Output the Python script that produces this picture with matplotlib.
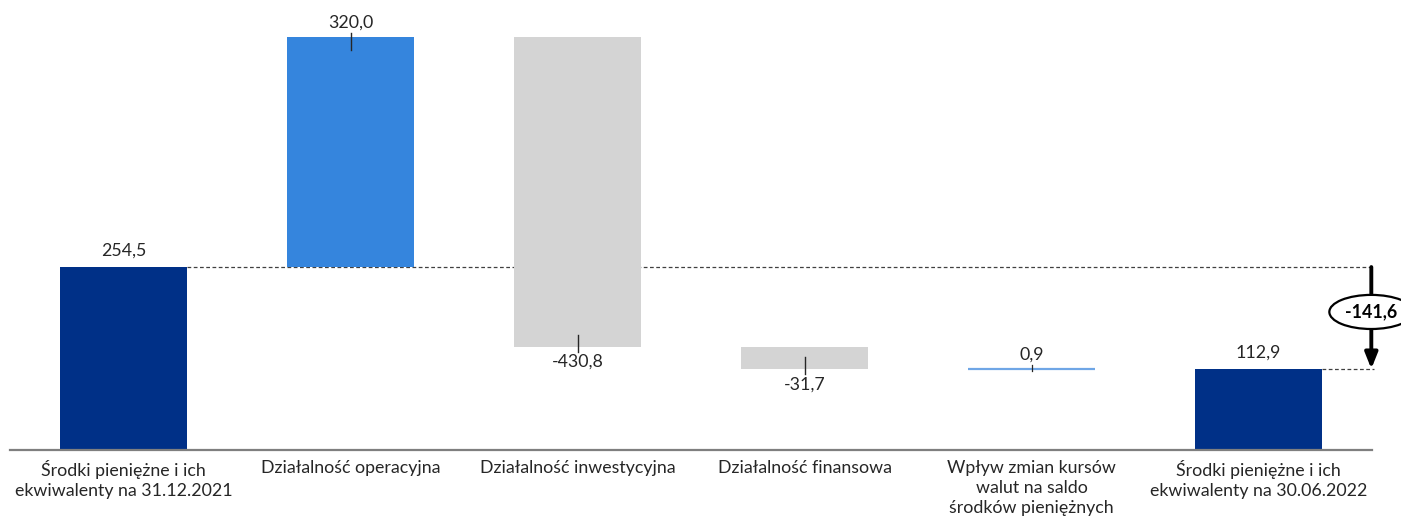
import matplotlib
matplotlib.use("Agg")
import matplotlib.pyplot as plt
import numpy as np

plt.rcParams["font.family"] = ["Lato", "DejaVu Sans"]

categories = [
    "Środki pieniężne i ich\nekwiwalenty na 31.12.2021",
    "Działalność operacyjna",
    "Działalność inwestycyjna",
    "Działalność finansowa",
    "Wpływ zmian kursów\nwalut na saldo\nśrodków pieniężnych",
    "Środki pieniężne i ich\nekwiwalenty na 30.06.2022",
]
opening = 254.5
changes = [320.0, -430.8, -31.7, 0.9]
closing = 112.9
net_change = -141.6
value_labels = ["254,5", "320,0", "-430,8", "-31,7", "0,9", "112,9", "-141,6"]

NAVY = "#003087"
BLUE = "#3585DD"
GREY = "#D4D4D4"
THIN_BLUE = "#6FA6E6"
TEXT = "#262626"

W, H, DPI = 1401, 522, 100
fig = plt.figure(figsize=(W / DPI, H / DPI), dpi=DPI)
ax_left, ax_right = 10, 1372
ax_bottom_px = 450
ax = fig.add_axes([ax_left / W, (H - ax_bottom_px) / H, (ax_right - ax_left) / W, ax_bottom_px / H])
ymax = 626
ax.set_xlim(-0.5, 5.5)
ax.set_ylim(0, ymax)

px = ymax / ax_bottom_px  # data units per pixel (vertical)
width = 0.56
x = np.arange(len(categories))

# waterfall geometry: running level after each step
levels = [opening]
for c in changes:
    levels.append(levels[-1] + c)
bottoms = [0] + [min(levels[i], levels[i + 1]) for i in range(len(changes))] + [0]
heights = [opening] + [abs(c) for c in changes] + [closing]
colors = [NAVY, BLUE, GREY, GREY, THIN_BLUE, NAVY]

for i in range(len(categories)):
    if i == 4:
        ax.hlines(bottoms[i] + heights[i] / 2, x[i] - width / 2, x[i] + width / 2,
                  color=THIN_BLUE, lw=1.6)
    else:
        ax.bar(x[i], heights[i], width, bottom=bottoms[i], color=colors[i],
               edgecolor="none", zorder=2)

# value labels with short leader ticks
fs = 12.8
for i, lab in enumerate(value_labels[:6]):
    if i in (0, 5):
        top = heights[i]
        ax.text(x[i], top + 8 * px, lab, ha="center", va="bottom", fontsize=fs, color=TEXT)
    elif i == 4:
        edge = levels[4]
        ax.text(x[i], edge + 6 * px, lab, ha="center", va="bottom", fontsize=fs, color=TEXT)
        ax.plot([x[i], x[i]], [edge - 2 * px, edge + 4 * px], color=TEXT, lw=0.9, zorder=3)
    else:
        c = changes[i - 1]
        if c > 0:
            edge = bottoms[i] + heights[i]
            ax.text(x[i], edge + 6 * px, lab, ha="center", va="bottom", fontsize=fs, color=TEXT)
            ax.plot([x[i], x[i]], [edge - 13 * px, edge + 4 * px], color=TEXT, lw=1.0, zorder=3)
        else:
            edge = bottoms[i]
            ax.text(x[i], edge - 7 * px, lab, ha="center", va="top", fontsize=fs, color=TEXT)
            ax.plot([x[i], x[i]], [edge + 12 * px, edge - 5 * px], color=TEXT, lw=1.0, zorder=3)

# dashed reference lines
x_end = 5.51
ax.hlines(opening, x[0] + width / 2, x_end, colors="#404040", linestyles=(0, (3, 2)),
          lw=0.9, clip_on=False, zorder=1)
ax.hlines(closing, x[5] + width / 2, x_end, colors="#404040", linestyles=(0, (3, 2)),
          lw=0.9, clip_on=False, zorder=1)

# net change arrow with ellipse label
ax.annotate("", xy=(5.497, closing), xytext=(5.497, opening),
            arrowprops=dict(arrowstyle="-|>,head_length=0.95,head_width=0.38",
                            color="black", lw=2.8, shrinkA=0, shrinkB=0),
            annotation_clip=False, zorder=4)
ax.text(5.497, (opening + closing) / 2 + 6 * px, value_labels[6], ha="center", va="center",
        fontsize=12.8, fontweight="bold", color="black", zorder=5, clip_on=False,
        bbox=dict(boxstyle="ellipse,pad=0.2", fc="white", ec="black", lw=1.6))

# axes styling
for s in ("top", "right", "left"):
    ax.spines[s].set_visible(False)
ax.spines["bottom"].set_color("#7F7F7F")
ax.spines["bottom"].set_linewidth(1.6)
ax.set_yticks([])
ax.set_xticks(x)
ax.set_xticklabels(categories, fontsize=fs, color=TEXT)
ax.tick_params(axis="x", length=0, pad=7)
for t in ax.get_xticklabels():
    t.set_linespacing(1.3)

fig.savefig("out.png", dpi=DPI)
